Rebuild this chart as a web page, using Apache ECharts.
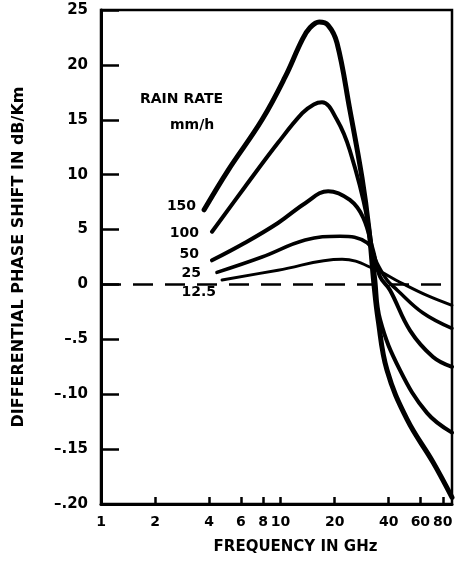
<!DOCTYPE html>
<html><head><meta charset="utf-8">
<script src="https://cdn.jsdelivr.net/npm/echarts@6/dist/echarts.min.js"></script>
<style>html,body{margin:0;padding:0;background:#fff}#c{width:468px;height:567px}</style>
</head><body><div id="c"></div>
<script>
// Rain rates (mm/h)
const rainRates = ['150', '100', '50', '25', '12.5'];

// Frequency (GHz) and differential phase shift for each curve
const freq150 = [3.75, 5.1, 7.88, 10.6, 13.2, 14.6, 16.4, 18.4, 20.6, 24.3, 28.4, 31.0, 33.1, 34.9, 39.1, 50.6, 70.6, 90];
const val150  = [6.8, 10.4, 15.0, 18.9, 22.3, 23.4, 23.9, 23.6, 22.0, 15.9, 9.7, 5.1, 0.0, -3.2, -7.8, -12.3, -16.2, -19.4];

const freq100 = [4.15, 6.34, 9.67, 13.2, 15.3, 17.0, 20.6, 24.3, 30.3, 33.5, 35.8, 46.2, 65.3, 90];
const val100  = [4.8, 8.9, 12.9, 15.6, 16.4, 16.6, 15.0, 12.2, 6.1, 0.7, -3.2, -7.8, -11.7, -13.5];

const freq50 = [4.15, 6.34, 9.67, 13.7, 18.4, 24.3, 28.8, 32.7, 35.8, 40.6, 52.6, 70.6, 90];
const val50  = [2.2, 3.8, 5.6, 7.4, 8.5, 7.7, 6.1, 3.1, 0.7, -0.5, -4.2, -6.6, -7.5];

const freq25 = [4.42, 7.88, 13.7, 21.4, 30.3, 34.4, 39.1, 44.5, 62.1, 90];
const val25  = [1.1, 2.5, 4.05, 4.4, 3.8, 1.95, 0.4, -0.5, -2.6, -4.0];

const freq12 = [4.72, 9.67, 22.0, 34.4, 46.2, 65.3, 90];
const val12  = [0.4, 1.3, 2.3, 1.3, 0.2, -1.0, -1.9];

// Zero reference line
const zeroFreq = [1, 90];
const zeroVal = [0, 0];

// Axis ticks / labels
const xTickValues = [1, 2, 4, 6, 8, 10, 20, 40, 60, 80];
const yTickValues = [25, 20, 15, 10, 5, 0, -5, -10, -15, -20];
const yTickLabels = ['25', '20', '15', '10', '5', '0', '\u2013.5', '\u2013.10', '\u2013.15', '\u2013.20'];

const curveFreqs = [freq150, freq100, freq50, freq25, freq12];
const curveVals = [val150, val100, val50, val25, val12];
const curveWidths = [5, 4, 4, 3.5, 3];

const pair = (fs, vs) => fs.map((f, i) => [f, vs[i]]);

const FONT = 'DejaVu Sans';
const chart = echarts.init(document.getElementById('c'), null, {renderer: 'canvas'});

const series = curveFreqs.map((fs, i) => ({
  name: rainRates[i],
  type: 'line',
  smooth: 0.4,
  symbol: 'none',
  data: pair(fs, curveVals[i]),
  lineStyle: {color: '#000', width: curveWidths[i], cap: 'round'},
  z: 3
}));
series.push({
  name: 'zero',
  type: 'line',
  symbol: 'none',
  data: pair(zeroFreq, zeroVal),
  lineStyle: {color: '#000', width: 2.5, type: [20, 12]},
  z: 2
});

chart.setOption({
  animation: false,
  backgroundColor: '#fff',
  grid: {left: 101, right: 16, top: 10, bottom: 63, show: true, borderColor: '#000', borderWidth: 2.5,
    containLabel: false, outerBoundsMode: 'none'},
  xAxis: {
    type: 'log', logBase: 10, min: 1, max: 90,
    axisLine: {show: true, onZero: false, lineStyle: {color: '#000', width: 3}},
    axisTick: {show: true, inside: true, length: 7, lineStyle: {color: '#000', width: 2.5}, customValues: xTickValues},
    axisLabel: {color: '#000', fontFamily: FONT, fontWeight: 'bold', fontSize: 14, margin: 11, customValues: xTickValues,
      formatter: v => String(Math.round(v))},
    minorTick: {show: false},
    splitLine: {show: false},
    name: 'FREQUENCY IN GHz', nameLocation: 'middle', nameGap: 36,
    nameTextStyle: {color: '#000', fontFamily: FONT, fontWeight: 'bold', fontSize: 15, padding: [0, 0, 0, 38]}
  },
  yAxis: {
    type: 'value', min: -20, max: 25, interval: 5,
    axisLine: {show: true, onZero: false, lineStyle: {color: '#000', width: 3}},
    axisTick: {show: true, inside: true, length: 18, lineStyle: {color: '#000', width: 2.5}},
    axisLabel: {color: '#000', fontFamily: FONT, fontWeight: 'bold', fontSize: 15, margin: 13,
      formatter: v => { const k = yTickValues.indexOf(v); return k >= 0 ? yTickLabels[k] : ''; }},
    splitLine: {show: false},
    name: 'DIFFERENTIAL PHASE SHIFT IN dB/Km', nameLocation: 'middle', nameRotate: 90, nameGap: 74,
    nameTextStyle: {color: '#000', fontFamily: FONT, fontWeight: 'bold', fontSize: 16, padding: [0, 0, 0, 0]}
  },
  series: series
});

// Curve labels placed at each curve's first point, plus the legend heading
const labelOffsets = [[-8, -3], [-13, 2], [-13, -6], [-16, 1], [-6, 12]];
const graphics = [
  {type: 'text', left: 140, top: 92, style: {text: 'RAIN RATE', font: 'bold 14px "DejaVu Sans"', fill: '#000'}},
  {type: 'text', left: 170, top: 118, style: {text: 'mm/h', font: 'bold 14px "DejaVu Sans"', fill: '#000'}}
];
curveFreqs.forEach((fs, i) => {
  const p = chart.convertToPixel({seriesIndex: i}, [fs[0], curveVals[i][0]]);
  graphics.push({type: 'text', x: p[0] + labelOffsets[i][0], y: p[1] + labelOffsets[i][1],
    style: {text: rainRates[i], font: 'bold 14px "DejaVu Sans"', fill: '#000', align: 'right', verticalAlign: 'middle'}});
});
chart.setOption({graphic: graphics});
</script>
</body></html>
